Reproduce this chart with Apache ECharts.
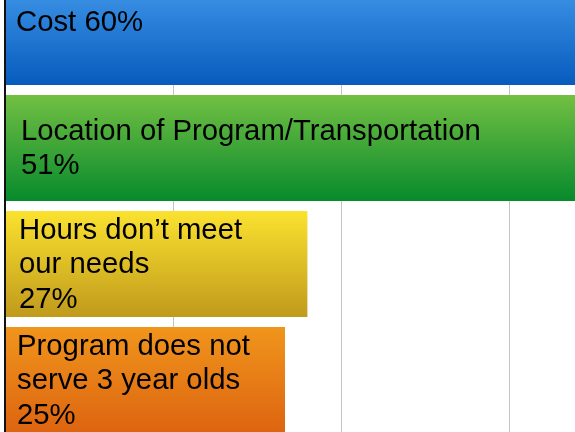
<!DOCTYPE html>
<html>
<head>
    <meta charset="utf-8">
    <title>Barriers</title>
    <script src="https://cdn.jsdelivr.net/npm/echarts@6/dist/echarts.min.js"></script>
    <style>
        html, body { margin: 0; padding: 0; background: #fff; }
        #chart1 { width: 575px; height: 432px; }
    </style>
</head>
<body>
<div id="chart1"></div>
<script type="text/javascript">
    // data
    var categories = ['Cost', 'Location of Program/Transportation', 'Hours don’t meet our needs', 'Program does not serve 3 year olds'];
    var values = [60, 51, 27, 25];
    var labelTexts = [
        'Cost 60%',
        'Location of Program/Transportation\n51%',
        'Hours don’t meet\nour needs\n27%',
        'Program does not\nserve 3 year olds\n25%'
    ];

    // gradient colours, top -> bottom
    var barColors = [
        ['#4199ea', '#075bbd'],
        ['#72c043', '#078a2c'],
        ['#fbe22f', '#c09a1c'],
        ['#f0951c', '#dd6410']
    ];
    var labelOffsets = [[0, -9], [5, 1], [3, 1], [1, 1]];

    var myChart1 = echarts.init(document.getElementById('chart1'));

    var seriesData = values.map(function (v, i) {
        return {
            value: v,
            name: categories[i],
            itemStyle: {
                color: new echarts.graphic.LinearGradient(0, 0, 0, 1, [
                    {offset: 0, color: barColors[i][0]},
                    {offset: 1, color: barColors[i][1]}
                ])
            },
            label: {
                formatter: labelTexts[i],
                offset: labelOffsets[i]
            }
        };
    });

    var options = {
        animation: false,
        grid: {
            left: 5,
            top: -26,
            width: 672,
            height: 464,
            outerBoundsMode: 'none',
            containLabel: false
        },
        xAxis: {
            type: 'value',
            min: 0,
            max: 60,
            interval: 15,
            axisLine: {show: false},
            axisTick: {show: false},
            axisLabel: {show: false},
            splitLine: {show: true, lineStyle: {color: '#c4c4c4', width: 1}}
        },
        yAxis: {
            type: 'category',
            inverse: true,
            data: categories,
            z: 3,
            axisLine: {show: true, lineStyle: {color: '#111', width: 2}},
            axisTick: {show: false},
            axisLabel: {show: false}
        },
        series: [{
            type: 'bar',
            barWidth: 106,
            data: seriesData,
            label: {
                show: true,
                position: 'insideLeft',
                distance: 11,
                color: '#000',
                fontFamily: '"Liberation Sans", Arial, Helvetica, sans-serif',
                fontSize: 29.3,
                lineHeight: 34.5,
                align: 'left'
            }
        }]
    };
    myChart1.setOption(options);
</script>
</body>
</html>
